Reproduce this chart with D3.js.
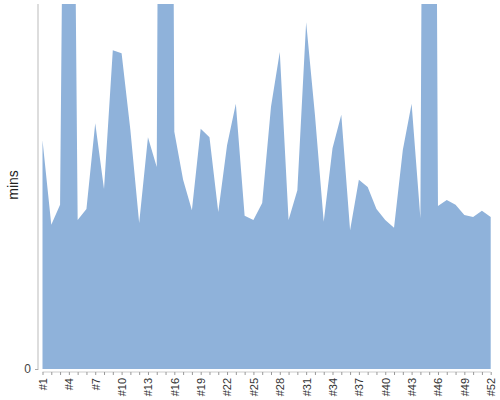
<!DOCTYPE html>
<html>
<head>
<meta charset="utf-8">
<script src="https://cdn.jsdelivr.net/npm/d3@7"></script>
<style>
  html, body { margin: 0; padding: 0; background: #fff; }
  svg { display: block; font-family: "Liberation Sans", Arial, sans-serif; }
</style>
</head>
<body>
<svg id="chart" width="500" height="400"></svg>
<script>
// ---- data ----
const weeks = d3.range(1, 53).map(i => "#" + i);
const minutes = [
  37.6, 23.7, 27.0, 191, 24.5, 26.3, 40.4, 29.6, 52.4, 51.9,
  39.3, 24.0, 38.1, 33.2, 350, 39.0, 31.1, 26.1, 39.5, 38.1,
  25.8, 36.8, 43.6, 25.2, 24.5, 27.3, 43.1, 52.1, 24.5, 29.4,
  57.0, 41.8, 24.2, 36.3, 41.8, 22.8, 31.1, 29.9, 26.3, 24.5,
  23.2, 36.0, 43.6, 24.8, 325, 26.8, 27.8, 27.0, 25.3, 25.0,
  26.0, 25.0
];
const xTickLabels = weeks.filter((d, i) => i % 3 === 0);
const yTickValues = [0];
const yDomain = [0, 60];
const yLabel = "mins";

// ---- layout ----
const svg = d3.select("#chart");
const plot = { left: 38, top: 4, bottom: 369, firstX: 42.5, lastX: 490.7 };

const x = d3.scalePoint().domain(weeks).range([plot.firstX, plot.lastX]);
const y = d3.scaleLinear().domain(yDomain).range([plot.bottom, plot.top]);

svg.append("defs").append("clipPath").attr("id", "clip")
  .append("rect")
  .attr("x", plot.left).attr("y", plot.top)
  .attr("width", 500 - plot.left).attr("height", plot.bottom - plot.top);

const area = d3.area()
  .x((d, i) => x(weeks[i]))
  .y0(y(0))
  .y1(d => y(d));

svg.append("path")
  .datum(minutes)
  .attr("clip-path", "url(#clip)")
  .attr("fill", "#8fb2da")
  .attr("d", area);

// y axis
const yAxis = d3.axisLeft(y).tickValues(yTickValues).tickSize(3).tickPadding(4);
const gy = svg.append("g").attr("transform", `translate(${plot.left},0)`).call(yAxis);
gy.select(".domain").attr("d", `M0,${plot.top}V${plot.bottom + 1}`).attr("stroke", "#bbb");
gy.selectAll(".tick line").attr("stroke", "#aaa");
gy.selectAll(".tick text").attr("fill", "#444").attr("font-size", 12);

// x axis
const xAxis = d3.axisBottom(x).tickSize(3).tickPadding(4)
  .tickFormat(d => xTickLabels.includes(d) ? d : "");
const gx = svg.append("g").attr("transform", `translate(0,${plot.bottom + 3})`).call(xAxis);
gx.select(".domain").attr("d", `M${plot.firstX},0H${plot.lastX}`).attr("stroke", "#ccc");
gx.selectAll(".tick line").attr("stroke", "#999");
gx.selectAll(".tick text")
  .attr("fill", "#333")
  .attr("font-size", 11)
  .attr("text-anchor", "end")
  .attr("dy", "0.35em")
  .attr("transform", "rotate(-90)")
  .attr("x", -6)
  .attr("y", 0);

// y label
svg.append("text")
  .attr("transform", `translate(18,185) rotate(-90)`)
  .attr("text-anchor", "middle")
  .attr("font-size", 14)
  .attr("fill", "#222")
  .text(yLabel);
</script>
</body>
</html>
